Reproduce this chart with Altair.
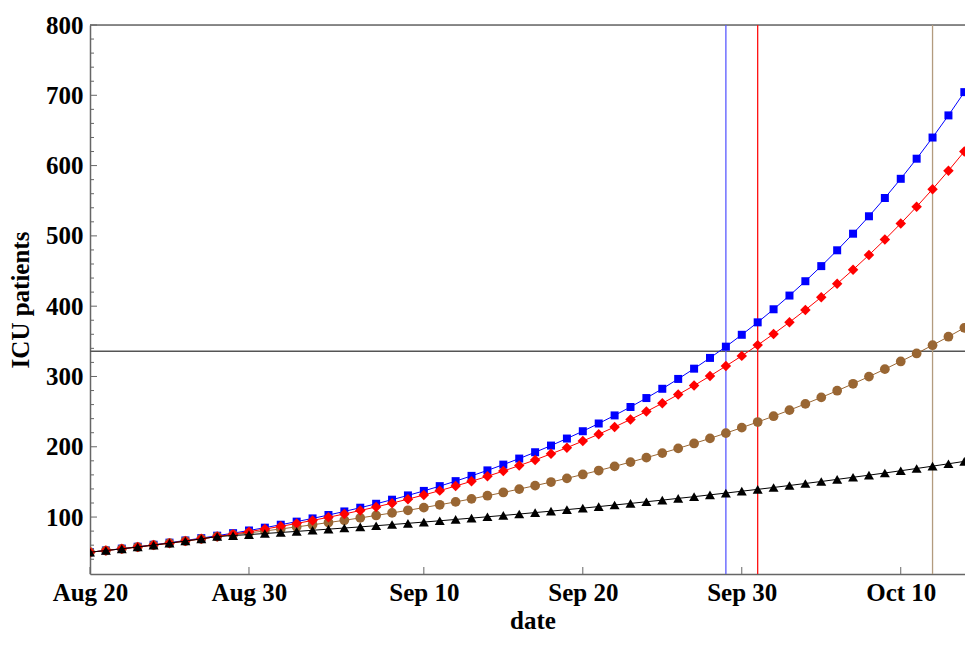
import altair as alt
import pandas as pd

# ---- data ----
start_date = "2020-08-20"
n_days = 57

blue = [50.0, 52.5, 55.1, 57.8, 60.6, 63.6, 66.7, 70.0, 73.5, 77.1,
        80.9, 84.9, 89.1, 93.5, 98.1, 102.9, 108.0, 113.3, 118.9, 124.7,
        130.8, 137.2, 144.0, 151.1, 158.6, 166.4, 174.6, 183.2, 192.2, 201.7,
        211.7, 222.1, 233.1, 244.6, 256.6, 269.3, 282.5, 296.5, 311.1, 326.4,
        342.4, 359.3, 377.0, 395.6, 415.1, 435.5, 457.0, 479.5, 503.1, 527.9,
        553.9, 581.2, 609.8, 639.9, 671.4, 704.5, 739.2]
red = [50.0, 52.4, 54.8, 57.4, 60.1, 62.9, 65.9, 69.0, 72.3, 75.7,
       79.2, 82.9, 86.8, 90.9, 95.2, 99.7, 104.4, 109.3, 114.4, 119.8,
       125.5, 131.4, 137.6, 144.1, 150.9, 158.0, 165.4, 173.2, 181.3, 189.9,
       198.7, 208.1, 217.9, 228.1, 238.9, 250.1, 261.9, 274.2, 287.1, 300.6,
       314.8, 329.3, 344.6, 360.5, 377.2, 394.6, 412.8, 431.9, 451.9, 472.8,
       494.7, 517.6, 541.5, 566.5, 592.7, 620.1, 648.8]
brown = [50.0, 52.4, 54.8, 57.4, 60.1, 62.9, 65.9, 69.0, 72.3, 74.9,
         77.5, 80.2, 83.1, 86.0, 89.0, 92.2, 95.4, 98.8, 102.3, 105.9,
         109.6, 113.5, 117.5, 121.6, 125.9, 130.4, 135.0, 139.8, 144.7, 149.8,
         155.1, 160.6, 166.2, 172.1, 178.2, 184.5, 191.0, 197.7, 204.7, 211.9,
         219.4, 227.2, 235.2, 243.5, 252.1, 261.0, 270.2, 279.7, 289.6, 299.8,
         310.4, 321.4, 332.7, 344.5, 356.6, 369.2, 382.2]
black = [50.0, 52.4, 54.8, 57.4, 60.1, 62.9, 65.9, 69.0, 72.3, 73.7,
         75.1, 76.6, 78.1, 79.6, 81.2, 82.8, 84.4, 86.0, 87.7, 89.4,
         91.1, 92.9, 94.7, 96.6, 98.5, 100.4, 102.3, 104.3, 106.4, 108.4,
         110.6, 112.7, 114.9, 117.2, 119.4, 121.8, 124.1, 126.6, 129.0, 131.6,
         134.1, 136.8, 139.4, 142.1, 144.9, 147.8, 150.6, 153.6, 156.6, 159.6,
         162.7, 165.9, 169.1, 172.4, 175.8, 179.2, 182.7]

threshold = 336
cross_dates = ["2020-09-29T00:00:00", "2020-10-01T00:00:00", "2020-10-12T00:00:00"]
cross_colors = ["#5a5aff", "#ff1010", "#b39b7f"]

x_tick_dates = ["2020-08-20T00:00:00", "2020-08-30T00:00:00", "2020-09-10T00:00:00",
                "2020-09-20T00:00:00", "2020-09-30T00:00:00", "2020-10-10T00:00:00"]
y_major = [100, 200, 300, 400, 500, 600, 700, 800]
y_minor = [v for v in range(40, 800, 20) if v % 100 != 0]

# ---- build tables ----
dates = [d.strftime("%Y-%m-%dT%H:%M:%S") for d in pd.date_range(start_date, periods=n_days, freq="D")]

W, H = 875, 549
FONT = "Liberation Serif"
AXC = "#666666"

x_scale = alt.Scale(domain=[alt.DateTime(year=2020, month=8, date=20),
                            alt.DateTime(year=2020, month=10, date=14, hours=1)])
y_scale = alt.Scale(domain=[19, 800], nice=False, zero=False)

x_axis = alt.Axis(values=[alt.DateTime(year=2020, month=int(s[5:7]), date=int(s[8:10])) for s in x_tick_dates],
                  format="%b %d", ticks=False, grid=False, domainColor=AXC, domainWidth=1.5,
                  labelFont=FONT, labelFontWeight="bold", labelFontSize=25, labelColor="black",
                  labelFlush=False, labelOverlap=False, labelPadding=6,
                  title="date", titleFont=FONT, titleFontWeight="bold", titleFontSize=25,
                  titleColor="black", titleX=W / 2 + 5, titleY=54, titleBaseline="alphabetic")
y_axis = alt.Axis(values=y_major, ticks=False, grid=False, domainColor=AXC, domainWidth=1.5,
                  labelFont=FONT, labelFontWeight="bold", labelFontSize=25, labelColor="black",
                  labelPadding=7, labelFlush=False, labelOverlap=False,
                  title="ICU patients", titleFont=FONT, titleFontWeight="bold", titleFontSize=25,
                  titleColor="black", titleX=-62, titleY=H / 2, titleAngle=-90,
                  titleBaseline="alphabetic", titleAlign="center")


def X():
    return alt.X("date:T", scale=x_scale, axis=x_axis)


def Y():
    return alt.Y("v:Q", scale=y_scale, axis=y_axis)


layers = []

# top frame line
layers.append(alt.Chart(pd.DataFrame({"v": [800]})).mark_rule(color=AXC, strokeWidth=1.5).encode(
    y=Y(), x=alt.value(0), x2=alt.value(W)))

# inward ticks
layers.append(alt.Chart(pd.DataFrame({"v": y_major})).mark_rule(color=AXC, strokeWidth=1).encode(
    y=Y(), x=alt.value(0), x2=alt.value(7)))
layers.append(alt.Chart(pd.DataFrame({"v": y_minor})).mark_rule(color=AXC, strokeWidth=1).encode(
    y=Y(), x=alt.value(0), x2=alt.value(4)))
layers.append(alt.Chart(pd.DataFrame({"date": x_tick_dates})).mark_rule(color=AXC, strokeWidth=1).encode(
    x=X(), y=alt.value(H), y2=alt.value(H - 7)))

# threshold and crossing lines
layers.append(alt.Chart(pd.DataFrame({"v": [threshold]})).mark_rule(color="#555555", strokeWidth=1.5).encode(
    y=Y(), x=alt.value(0), x2=alt.value(W)))
cross_df = pd.DataFrame({"date": cross_dates, "c": cross_colors})
layers.append(alt.Chart(cross_df).mark_rule(strokeWidth=1.3).encode(
    x=X(), color=alt.Color("c:N", scale=None), y=alt.value(0), y2=alt.value(H)))

series = [
    ("blue", blue, "#0000ff", "square", 64),
    ("brown", brown, "#996633", "circle", 95),
    ("red", red, "#ff0000", "diamond", 110),
    ("black", black, "#000000", "triangle-up", 100),
]

for name, vals, col, shape, size in series:
    df = pd.DataFrame({"date": dates, "v": vals})
    layers.append(alt.Chart(df).mark_line(color=col, strokeWidth=1, clip=True).encode(x=X(), y=Y()))
    layers.append(alt.Chart(df).mark_point(color=col, shape=shape, size=size, filled=True,
                                           opacity=1, clip=True).encode(x=X(), y=Y()))

chart = alt.layer(*layers).properties(
    width=W, height=H,
    autosize=alt.AutoSizeParams(type="none"),
    padding={"left": 82, "top": 17, "right": 0, "bottom": 60},
).configure_view(stroke=None).configure(background="white")

chart.save("out.html", embed_options={"renderer": "svg", "actions": False})
